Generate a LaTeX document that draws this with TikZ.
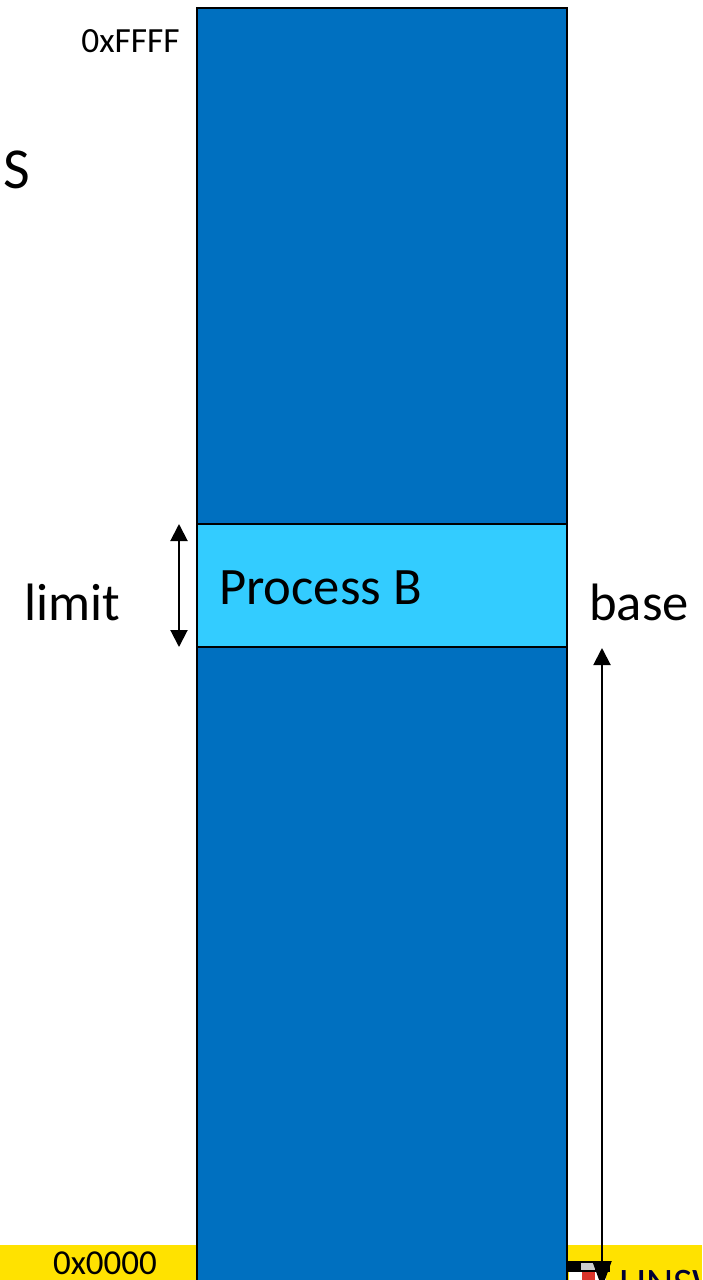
\documentclass[tikz,border=0pt]{standalone}
\usepackage{fontspec}
\setmainfont{Carlito}
\usetikzlibrary{arrows.meta}
\definecolor{memblue}{HTML}{0070C0}
\definecolor{procblue}{HTML}{33CCFF}
\definecolor{baryellow}{HTML}{FFE200}
\definecolor{crest}{HTML}{D9342B}
\tikzset{
  x=1pt,y=-1pt,
  region/.style={draw=black,line width=2.8pt,fill=#1},
  dim/.style={line width=2pt,{Triangle[length=17pt,width=17pt]}-{Triangle[length=17pt,width=17pt]}},
  dimlong/.style={line width=2pt,{Triangle[length=17pt,width=17pt]}-{Triangle[length=27pt,width=19pt]}},
  lab/.style={inner sep=0pt,text=black},
}
\begin{document}
\begin{tikzpicture}
\useasboundingbox (0,0) rectangle (702,1280);
\clip (0,0) rectangle (702,1280);
% footer band
\fill[baryellow] (0,1245) rectangle (702,1280);
\fill[black] (568,1261) rectangle (610,1272);
\fill[white] (569,1272) rectangle (606,1280);
\fill[crest] (582,1272) rectangle (595,1280);
\fill[gray!40] (581,1263) rectangle (595,1270);
\node[lab,anchor=base west,font=\fontsize{42}{42}\selectfont,text=black!80!blue] (logo) at (619,1297) {UNSW};
% memory column
\draw[region=memblue] (197,8) rectangle (567,1300);
\node[region=procblue,outer sep=0pt,minimum width=370pt,minimum height=123pt,inner sep=0pt,anchor=north west] (procb) at (197,524) {};
% labels
\node[lab,anchor=base west,font=\fontsize{52.6}{52.6}\selectfont] (pb) at (219,604.5) {Process B};
\node[lab,anchor=base west,font=\fontsize{52.6}{52.6}\selectfont] (limit) at (24.5,620.5) {limit};
\node[lab,anchor=base west,font=\fontsize{52.6}{52.6}\selectfont] (base) at (589,620.5) {base};
\node[lab,anchor=base west,font=\fontsize{58}{58}\selectfont] (s) at (3,188.5) {S};
\node[lab,anchor=base east,font=\fontsize{35.4}{35.4}\selectfont] (ffff) at (180,52) {0xFFFF};
\node[lab,anchor=base,font=\fontsize{35}{35}\selectfont] (zero) at (105,1274) {0x0000};
% dimension arrows
\coordinate (limT) at (179,524);
\coordinate (limB) at (179,647);
\coordinate (baseT) at (602,648);
\coordinate (baseB) at (602,1288);
\draw[dim] (limT) -- (limB);
\draw[dimlong] (baseT) -- (baseB);
\end{tikzpicture}
\end{document}
